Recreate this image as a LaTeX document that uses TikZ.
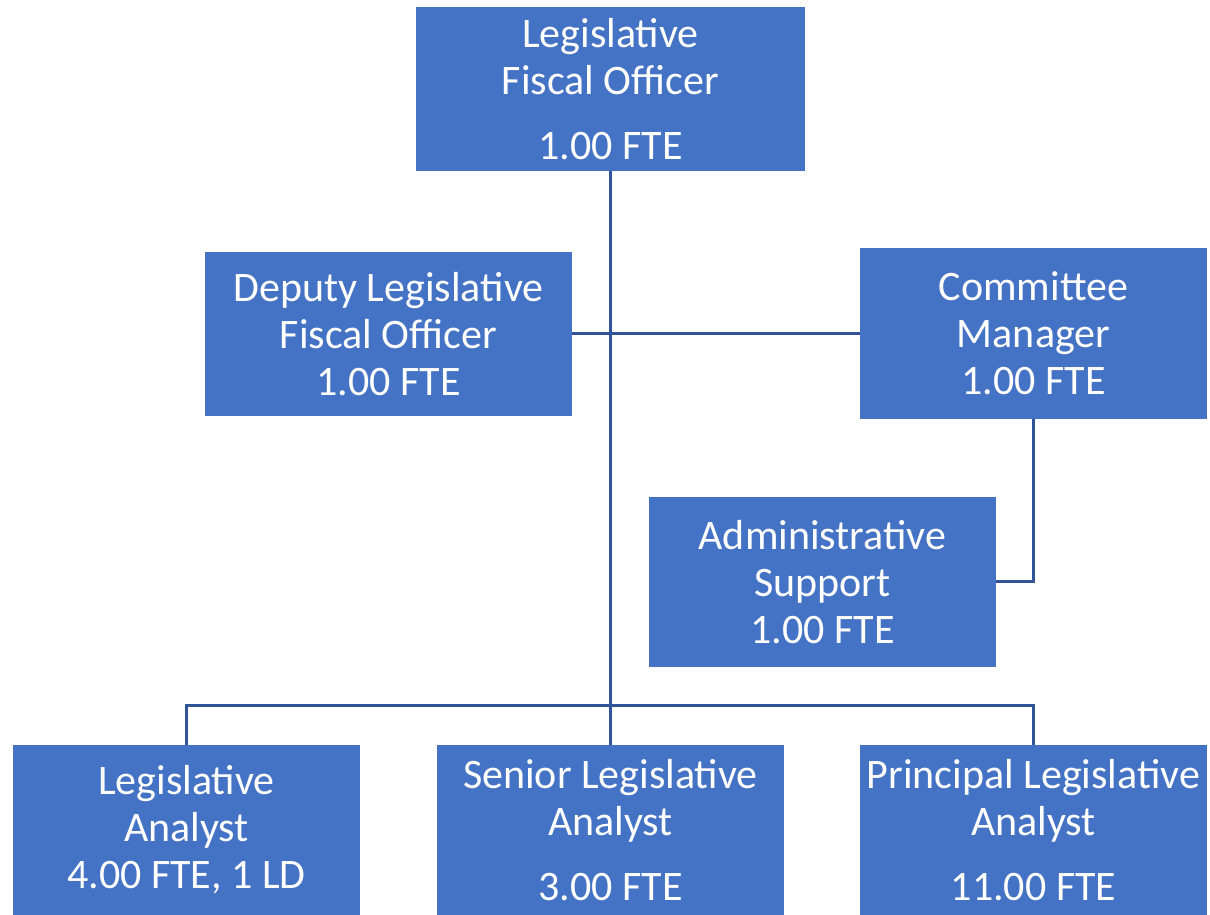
\documentclass[tikz,border=0pt]{standalone}
\usepackage{fontspec}
\setmainfont{Carlito}
\usetikzlibrary{calc}
\definecolor{boxblue}{HTML}{4472C4}
\definecolor{wireblue}{HTML}{2F5597}
\newcommand\XL{186.5}
\newcommand\XM{610.5}
\newcommand\XR{1033.5}
\newcommand\XAdm{822.5}
\newcommand\XDep{388.5}
\newcommand\Ybus{209}

\begin{document}
\begin{tikzpicture}
  [x=0.5pt, y=0.5pt,
   post/.style = {
     fill=boxblue, text=white, inner sep=0pt, align=center,
     minimum width=173.5pt, minimum height=85pt,
     font=\fontsize{21pt}{23.5pt}\selectfont
   },
   wire/.style = {
     draw=wireblue, line width=1.5pt
   }]

  \useasboundingbox (0,0) rectangle (1210,915);

  % Top of the tree.
  \node[post, minimum width=194.5pt, minimum height=82pt] at (\XM, 826) (lfo)
    {Legislative\\Fiscal Officer\\[9pt]1.00 FTE};

  % Second level.
  \node[post, minimum width=183.5pt, minimum height=82pt] at (\XDep, 581) (deputy)
    {Deputy Legislative\\Fiscal Officer\\1.00 FTE};
  \node[post, minimum height=85.5pt] at (\XR, 581.5) (cmgr)
    {Committee\\Manager\\1.00 FTE};
  \node[post] at (\XAdm, 333) (admin)
    {Administrative\\Support\\1.00 FTE};

  % Analysts.
  \node[post] at (\XL, 85) (la)
    {Legislative\\Analyst\\4.00 FTE, 1 LD};
  \node[post] at (\XM, 85) (sla)
    {Senior Legislative\\Analyst\\[9pt]3.00 FTE};
  \node[post] at (\XR, 85) (pla)
    {Principal Legislative\\Analyst\\[9pt]11.00 FTE};

  \coordinate (bus) at (\XM, \Ybus);

  % Connectors.
  \draw[wire] (lfo.south) -- (sla.north);
  \draw[wire] (deputy.east) -- (deputy.east -| cmgr.west);
  \draw[wire] (cmgr.south) |- (admin.east);
  \draw[wire] (la.north) |- (bus) -| (pla.north);

\end{tikzpicture}
\end{document}
